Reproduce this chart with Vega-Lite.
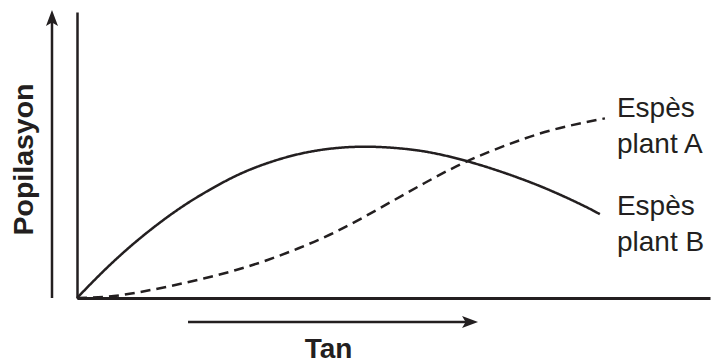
{
  "$schema": "https://vega.github.io/schema/vega-lite/v6.json",
  "width": 633,
  "height": 286,
  "autosize": "none",
  "padding": {"left": 77, "top": 12, "right": 9, "bottom": 65},
  "background": "white",
  "config": {
    "view": {"stroke": null},
    "font": "Liberation Sans"
  },
  "layer": [
    {
      "data": {
        "values": [
          {"series": "Espès plant B", "tan": 0, "popilasyon": 0},
          {"series": "Espès plant B", "tan": 4, "popilasyon": 9.0},
          {"series": "Espès plant B", "tan": 8, "popilasyon": 17.2},
          {"series": "Espès plant B", "tan": 12, "popilasyon": 24.5},
          {"series": "Espès plant B", "tan": 16, "popilasyon": 31.0},
          {"series": "Espès plant B", "tan": 20, "popilasyon": 36.6},
          {"series": "Espès plant B", "tan": 25, "popilasyon": 42.6},
          {"series": "Espès plant B", "tan": 30, "popilasyon": 47.1},
          {"series": "Espès plant B", "tan": 35, "popilasyon": 50.3},
          {"series": "Espès plant B", "tan": 40, "popilasyon": 52.2},
          {"series": "Espès plant B", "tan": 45, "popilasyon": 52.9},
          {"series": "Espès plant B", "tan": 50, "popilasyon": 52.5},
          {"series": "Espès plant B", "tan": 55, "popilasyon": 51.2},
          {"series": "Espès plant B", "tan": 60, "popilasyon": 48.8},
          {"series": "Espès plant B", "tan": 65, "popilasyon": 45.6},
          {"series": "Espès plant B", "tan": 70, "popilasyon": 41.8},
          {"series": "Espès plant B", "tan": 75, "popilasyon": 37.4},
          {"series": "Espès plant B", "tan": 80, "popilasyon": 32.3},
          {"series": "Espès plant B", "tan": 82.6, "popilasyon": 29.3},
          {"series": "Espès plant A", "tan": 0, "popilasyon": 0},
          {"series": "Espès plant A", "tan": 5, "popilasyon": 0.5},
          {"series": "Espès plant A", "tan": 10, "popilasyon": 2.1},
          {"series": "Espès plant A", "tan": 15, "popilasyon": 4.3},
          {"series": "Espès plant A", "tan": 20, "popilasyon": 6.8},
          {"series": "Espès plant A", "tan": 25, "popilasyon": 9.7},
          {"series": "Espès plant A", "tan": 30, "popilasyon": 13.2},
          {"series": "Espès plant A", "tan": 35, "popilasyon": 17.4},
          {"series": "Espès plant A", "tan": 40, "popilasyon": 22.2},
          {"series": "Espès plant A", "tan": 45, "popilasyon": 27.9},
          {"series": "Espès plant A", "tan": 50, "popilasyon": 34.1},
          {"series": "Espès plant A", "tan": 55, "popilasyon": 40.3},
          {"series": "Espès plant A", "tan": 60, "popilasyon": 46.1},
          {"series": "Espès plant A", "tan": 65, "popilasyon": 51.0},
          {"series": "Espès plant A", "tan": 70, "popilasyon": 55.2},
          {"series": "Espès plant A", "tan": 75, "popilasyon": 58.7},
          {"series": "Espès plant A", "tan": 80, "popilasyon": 61.3},
          {"series": "Espès plant A", "tan": 83.4, "popilasyon": 62.8}
        ]
      },
      "mark": {"type": "line", "interpolate": "natural", "color": "#231f20", "strokeWidth": 2.5},
      "encoding": {
        "x": {
          "field": "tan", "type": "quantitative",
          "scale": {"domain": [0, 100], "nice": false, "zero": false},
          "axis": {
            "title": "Tan", "domain": true, "domainColor": "#231f20", "domainWidth": 2.8,
            "ticks": false, "labels": false, "grid": false,
            "titleFont": "Liberation Sans", "titleFontSize": 28, "titleFontWeight": "bold", "titleColor": "#231f20",
            "titleX": 251, "titleY": 59, "titleBaseline": "alphabetic", "titleAlign": "center"
          }
        },
        "y": {
          "field": "popilasyon", "type": "quantitative",
          "scale": {"domain": [0, 100], "nice": false, "zero": false},
          "axis": {
            "title": "Popilasyon", "domain": true, "domainColor": "#231f20", "domainWidth": 2.5,
            "ticks": false, "labels": false, "grid": false,
            "titleFont": "Liberation Sans", "titleFontSize": 28.5, "titleFontWeight": "bold", "titleColor": "#231f20",
            "titleX": -45, "titleY": 147, "titleBaseline": "alphabetic", "titleAlign": "center", "titleAngle": 270
          }
        },
        "detail": {"field": "series", "type": "nominal"},
        "strokeDash": {
          "field": "series", "type": "nominal",
          "scale": {"domain": ["Espès plant A", "Espès plant B"], "range": [[10, 6], [1, 0]]},
          "legend": null
        }
      }
    },
    {
      "data": {"values": [{"tan": -3.95, "popilasyon": 0, "popilasyon_end": 97.2}]},
      "mark": {"type": "rule", "color": "#231f20", "strokeWidth": 2.5},
      "encoding": {
        "x": {"field": "tan", "type": "quantitative"},
        "y": {"field": "popilasyon", "type": "quantitative"},
        "y2": {"field": "popilasyon_end"}
      }
    },
    {
      "data": {"values": [{"tan": -3.95, "popilasyon": 97.9}]},
      "mark": {"type": "point", "shape": "M0,-1L0.75,1L0,0.55L-0.75,1Z", "size": 256, "filled": true, "color": "#231f20", "opacity": 1, "strokeWidth": 0},
      "encoding": {
        "x": {"field": "tan", "type": "quantitative"},
        "y": {"field": "popilasyon", "type": "quantitative"}
      }
    },
    {
      "data": {"values": [{"tan": 17.54, "tan_end": 62.4, "popilasyon": -8.39}]},
      "mark": {"type": "rule", "color": "#231f20", "strokeWidth": 2.5},
      "encoding": {
        "x": {"field": "tan", "type": "quantitative"},
        "x2": {"field": "tan_end"},
        "y": {"field": "popilasyon", "type": "quantitative"}
      }
    },
    {
      "data": {"values": [{"tan": 62.09, "popilasyon": -8.39}]},
      "mark": {"type": "point", "shape": "M1,0L-1,-0.75L-0.55,0L-1,0.75Z", "size": 256, "filled": true, "color": "#231f20", "opacity": 1, "strokeWidth": 0},
      "encoding": {
        "x": {"field": "tan", "type": "quantitative"},
        "y": {"field": "popilasyon", "type": "quantitative"}
      }
    },
    {
      "data": {
        "values": [
          {"tan": 85.3, "popilasyon": 63.4, "label": "Espès\nplant A"},
          {"tan": 85.3, "popilasyon": 29.0, "label": "Espès\nplant B"}
        ]
      },
      "mark": {"type": "text", "align": "left", "baseline": "alphabetic", "lineBreak": "\n", "lineHeight": 36, "fontSize": 28, "font": "Liberation Sans", "color": "#231f20"},
      "encoding": {
        "x": {"field": "tan", "type": "quantitative"},
        "y": {"field": "popilasyon", "type": "quantitative"},
        "text": {"field": "label", "type": "nominal"}
      }
    }
  ]
}
